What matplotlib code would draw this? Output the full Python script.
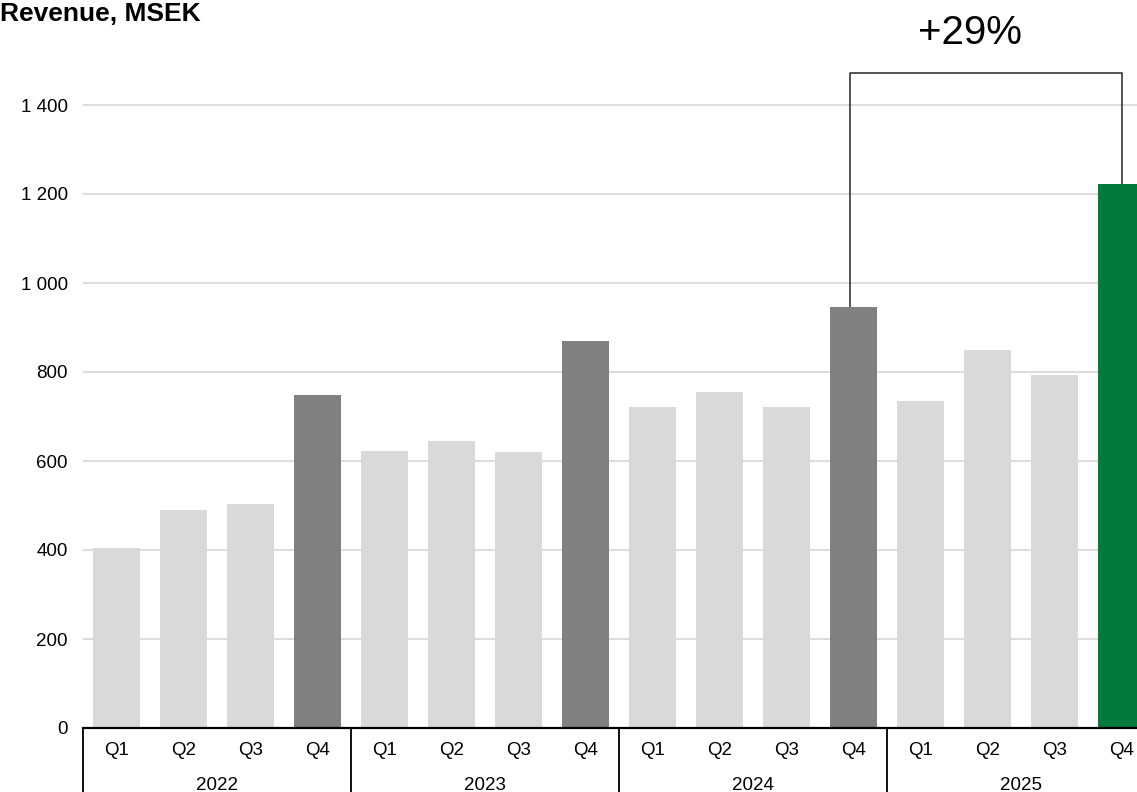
import numpy as np
import matplotlib.pyplot as plt
import matplotlib.transforms as mtransforms
from matplotlib.ticker import FuncFormatter

plt.rcParams['font.family'] = ['Liberation Sans', 'DejaVu Sans']

years = ['2022', '2023', '2024', '2025']
quarters = ['Q1', 'Q2', 'Q3', 'Q4']
revenue = [405, 491, 503, 748,
           622, 645, 620, 870,
           721, 755, 721, 946,
           735, 849, 793, 1222]
growth_label = '+29%'

light = '#D9D9D9'
dark = '#808080'
green = '#007A3D'

colors = []
for i in range(len(revenue)):
    if i == len(revenue) - 1:
        colors.append(green)
    elif i % 4 == 3:
        colors.append(dark)
    else:
        colors.append(light)

W, H = 1137, 792
fig = plt.figure(figsize=(W / 100, H / 100), dpi=100)
# plot area runs a bit past the right edge of the figure
ax = fig.add_axes([83 / W, 1 - 728 / H, 1072 / W, 712 / H])

x = np.arange(len(revenue))
ax.bar(x, revenue, width=0.7, color=colors, zorder=3)

ax.set_xlim(-0.5, len(revenue) - 0.5)
ax.set_ylim(0, 1600)
ax.set_yticks(np.arange(0, 1401, 200))
ax.yaxis.set_major_formatter(FuncFormatter(lambda v, p: f'{int(v):,}'.replace(',', ' ')))
ax.grid(axis='y', color='#D9D9D9', linewidth=1.3, zorder=0)

for s in ['top', 'right', 'left']:
    ax.spines[s].set_visible(False)
ax.spines['bottom'].set_linewidth(1.6)
ax.spines['bottom'].set_zorder(4)

ax.set_xticks(x)
ax.set_xticklabels(quarters * len(years))
ax.tick_params(axis='x', length=0, pad=10, labelsize=13.5)
ax.tick_params(axis='y', length=0, pad=11, labelsize=13.5)

# year groups under the quarter labels
trans = mtransforms.blended_transform_factory(ax.transData, ax.transAxes)
for k, yr in enumerate(years):
    ax.text(k * 4 + 1.5, -0.0805, yr, transform=trans, ha='center', va='center', fontsize=13.5)
for k in range(len(years) + 1):
    ax.plot([k * 4 - 0.5, k * 4 - 0.5], [0, -0.1], transform=trans, color='black',
            linewidth=1.3, clip_on=False)

# growth bracket Q4 2024 -> Q4 2025
i0, i1 = 11, 15
top = 1473
ax.plot([i0 - 0.05, i0 - 0.05, i1, i1], [revenue[i0], top, top, revenue[i1]], color='#262626',
        linewidth=1.1, zorder=2)
ax.text(12.74, 1562, growth_label, ha='center', va='center', fontsize=29)

fig.text(0.0, 1 - 21 / H, 'Revenue, MSEK', ha='left', va='baseline',
         fontsize=19, fontweight='bold')

fig.savefig('out.png', dpi=100)
